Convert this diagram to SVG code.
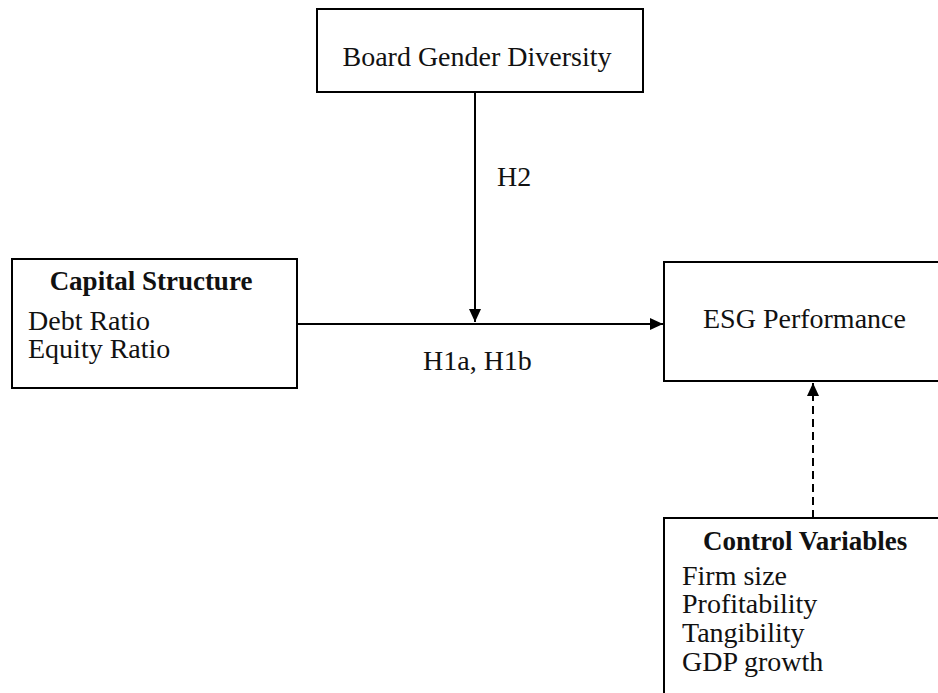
<svg xmlns="http://www.w3.org/2000/svg" width="938" height="693" viewBox="0 0 938 693">
<style>
.box{fill:#fff;stroke:#000;stroke-width:2}
.t{font-family:'Liberation Serif','Times New Roman','DejaVu Serif',serif;font-size:28px;fill:#111}
.b{font-weight:bold;font-size:27px}
.ln{stroke:#000;stroke-width:2;fill:none}
.dash{stroke-dasharray:8 5}
</style>
<defs>
<marker id="arr" markerUnits="userSpaceOnUse" markerWidth="14" markerHeight="14" viewBox="0 0 14 14" refX="13" refY="7" orient="auto">
<path d="M0,1 L13,7 L0,13 Z" fill="#000"/>
</marker>
</defs>
<rect width="938" height="693" fill="#fff"/>
<g id="connectors">
<line class="ln" x1="297" y1="324" x2="663" y2="324" marker-end="url(#arr)"/>
<line class="ln" x1="475" y1="92" x2="475" y2="322" marker-end="url(#arr)"/>
<line class="ln dash" x1="813" y1="518" x2="813" y2="383" marker-end="url(#arr)"/>
<text class="t" font-family="Liberation Serif, serif" x="497" y="186">H2</text>
<text class="t" font-family="Liberation Serif, serif" x="423" y="370">H1a, H1b</text>
</g>
<g id="board" font-family="Liberation Serif, serif">
<rect class="box" x="317" y="9" width="326" height="83"/>
<text class="t" x="477" y="66" text-anchor="middle">Board Gender Diversity</text>
</g>
<g id="capital" font-family="Liberation Serif, serif">
<rect class="box" x="12" y="259" width="285" height="129"/>
<text class="t b" x="151" y="290" text-anchor="middle">Capital Structure</text>
<text class="t" x="28" y="330">Debt Ratio</text>
<text class="t" x="28" y="358">Equity Ratio</text>
</g>
<g id="esg" font-family="Liberation Serif, serif">
<rect class="box" x="664" y="262" width="300" height="119"/>
<text class="t" x="703" y="328">ESG Performance</text>
</g>
<g id="control" font-family="Liberation Serif, serif">
<rect class="box" x="664" y="518" width="300" height="200"/>
<text class="t b" x="703" y="550">Control Variables</text>
<text class="t" x="682" y="585">Firm size</text>
<text class="t" x="682" y="613">Profitability</text>
<text class="t" x="682" y="642">Tangibility</text>
<text class="t" x="682" y="671">GDP growth</text>
</g>
</svg>
